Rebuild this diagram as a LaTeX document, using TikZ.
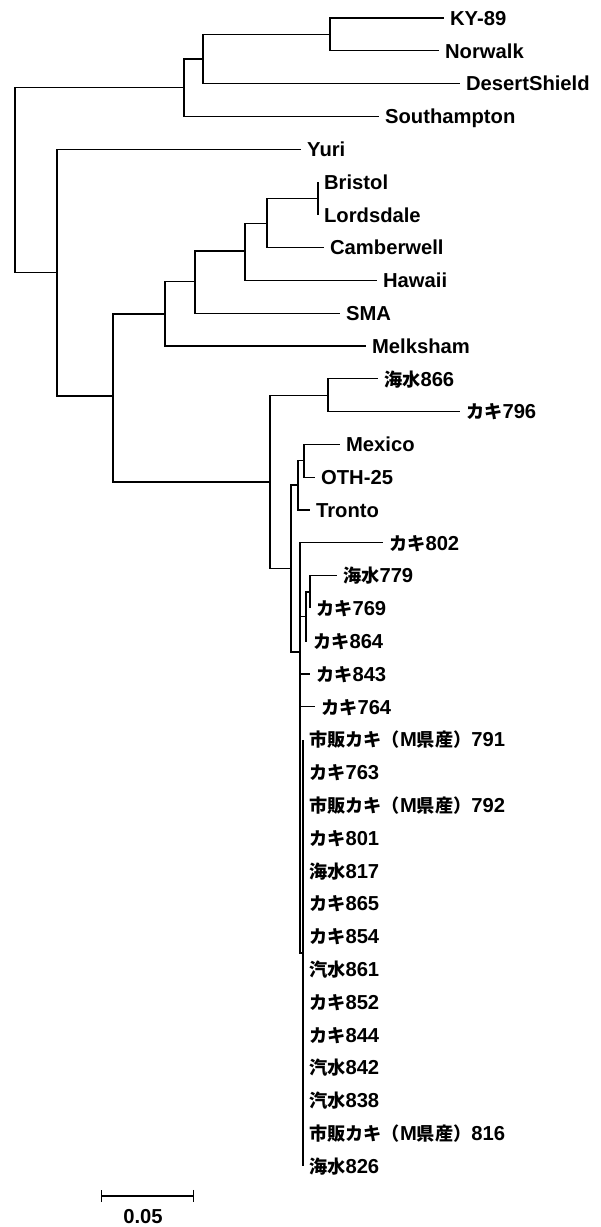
\documentclass[tikz,border=0pt]{standalone}
\usepackage{fontspec}
\setmainfont{Liberation Sans}
\newfontfamily\jp{Noto Sans CJK JP}[Scale=0.9]
\newcommand{\ja}[1]{{\jp\bfseries #1}}
\usetikzlibrary{arrows.meta}

\begin{document}
\begin{tikzpicture}[x=0.02cm, y=-0.02cm, every node/.style={font=\fontsize{11.5}{14}\selectfont\bfseries},
	leaf/.style={anchor=west, inner xsep=3.5pt, inner ysep=0pt, outer sep=0pt, text height=8.3pt, text depth=0pt},
	branch/.style={line width=0.6pt}]
	\useasboundingbox (0,0) rectangle (601,1227);
	% leaves: row/name/end of branch/label
	\foreach \i/\nm/\ex/\lab in {0/ky/444/KY-89, 1/nw/439/Norwalk, 2/ds/460/DesertShield, 3/so/379/Southampton,
		4/yu/301/Yuri, 5/bs/318/Bristol, 6/ld/318/Lordsdale, 7/cw/324/Camberwell, 8/hw/377/Hawaii,
		9/sma/340/SMA, 10/mk/366/Melksham, 11/s866/378/\ja{海水}866, 12/k796/460/\ja{カキ}796,
		13/mx/340/Mexico, 14/oth/315/OTH-25, 15/tr/310/Tronto, 16/k802/383/\ja{カキ}802,
		17/s779/337/\ja{海水}779, 18/k769/310/\ja{カキ}769, 19/k864/307/\ja{カキ}864,
		20/k843/310/\ja{カキ}843, 21/k764/315/\ja{カキ}764, 22/c791/303/\ja{市販カキ（}M\ja{県産）}791,
		23/k763/303/\ja{カキ}763, 24/c792/303/\ja{市販カキ（}M\ja{県産）}792, 25/k801/303/\ja{カキ}801,
		26/s817/303/\ja{海水}817, 27/k865/303/\ja{カキ}865, 28/k854/303/\ja{カキ}854,
		29/b861/303/\ja{汽水}861, 30/k852/303/\ja{カキ}852, 31/k844/303/\ja{カキ}844,
		32/b842/303/\ja{汽水}842, 33/b838/303/\ja{汽水}838, 34/c816/303/\ja{市販カキ（}M\ja{県産）}816,
		35/s826/303/\ja{海水}826} {
		\node[leaf] (\nm) at (\ex, 18+32.8*\i) {\lab};
	}
	% inner nodes of the tree
	\foreach \nm/\x/\y in {root/15/180, n1/184/87.5, n2/203/59, n3/330/34.5, n4/57/272.5, n5/113/396,
		n6/165/314, n7/195/281.5, n8/245/251, n9/267/223.5, n10/318/198.5, n11/270/482,
		n12/328/395.5, n13/291/568.5, n14/298/485, n15/304/460.5, n16/300/652,
		n17/306/616.5, n18/310/592, n19/303/953} {
		\coordinate (\nm) at (\x,\y);
	}
	\foreach \a/\b in {root/n1, root/n4, n1/n2, n2/n3, n4/n5, n5/n6, n5/n11, n6/n7, n7/n8, n8/n9,
		n9/n10, n11/n12, n11/n13, n13/n14, n13/n16, n14/n15, n16/n17, n17/n18, n16/n19} {
		\draw[branch] (\a) |- (\b);
	}
	\foreach \a/\b in {n3/ky, n3/nw, n2/ds, n1/so, n4/yu, n10/bs, n10/ld, n9/cw, n8/hw, n7/sma, n6/mk,
		n12/s866, n12/k796, n15/mx, n15/oth, n14/tr, n16/k802, n18/s779, n18/k769, n17/k864,
		n16/k843, n16/k764, n19/c791, n19/k763, n19/c792, n19/k801, n19/s817, n19/k865, n19/k854,
		n19/b861, n19/k852, n19/k844, n19/b842, n19/b838, n19/c816, n19/s826} {
		\draw[branch] (\a) |- (\b.west);
	}
	% scale bar
	\coordinate (sbl) at (101,1196);
	\coordinate (sbr) at (194,1196);
	\draw[branch, {Bar[width=7pt]}-{Bar[width=7pt]}] (sbl) -- (sbr);
	\node (sbt) at (143,1217) {0.05};
\end{tikzpicture}
\end{document}
